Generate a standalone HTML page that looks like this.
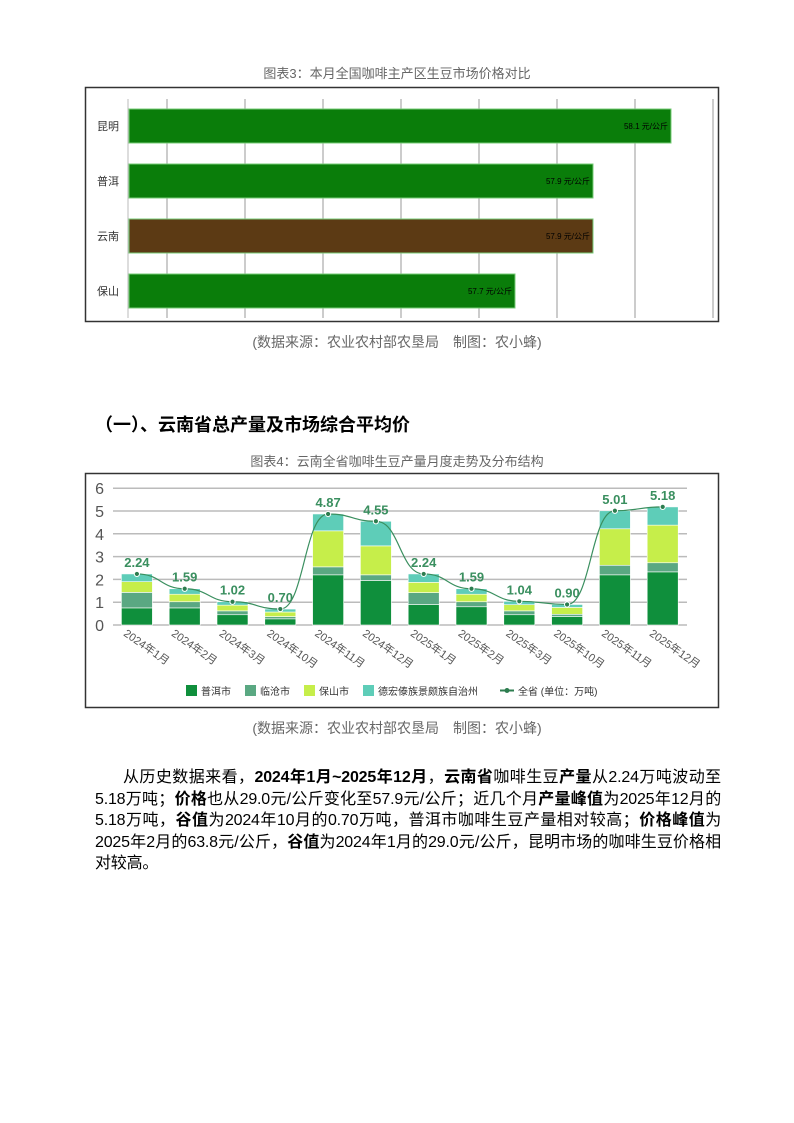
<!DOCTYPE html>
<html><head><meta charset="utf-8"><style>
body{margin:0;width:794px;height:1123px;background:#fff;font-family:"Liberation Sans","Noto Sans CJK SC",sans-serif;position:relative;overflow:hidden}
.t{position:absolute;left:0;width:794px;text-align:center;color:#666;font-size:13px}
p{position:absolute;left:95px;top:767px;width:626px;margin:0;font-size:16px;line-height:21.5px;text-indent:28px;color:#000;text-align:justify;letter-spacing:-0.2px}
h2{position:absolute;left:95px;top:411px;margin:0;font-size:18px;font-weight:bold}
</style></head><body>
<div class="t" style="top:63px">图表3：本月全国咖啡主产区生豆市场价格对比</div>
<div class="t" style="top:332px;font-size:14px">(数据来源：农业农村部农垦局　制图：农小蜂)</div>
<h2>（一）、云南省总产量及市场综合平均价</h2>
<div class="t" style="top:451px">图表4：云南全省咖啡生豆产量月度走势及分布结构</div>
<div class="t" style="top:718px;font-size:14px">(数据来源：农业农村部农垦局　制图：农小蜂)</div>
<svg id="s" width="794" height="1123" style="position:absolute;left:0;top:0" font-family="Liberation Sans,Noto Sans CJK SC,sans-serif"></svg>
<p>从历史数据来看，<b>2024年1月~2025年12月</b>，<b>云南省</b>咖啡生豆<b>产量</b>从2.24万吨波动至5.18万吨；<b>价格</b>也从29.0元/公斤变化至57.9元/公斤；近几个月<b>产量峰值</b>为2025年12月的5.18万吨，<b>谷值</b>为2024年10月的0.70万吨，普洱市咖啡生豆产量相对较高；<b>价格峰值</b>为2025年2月的63.8元/公斤，<b>谷值</b>为2024年1月的29.0元/公斤，昆明市场的咖啡生豆价格相对较高。</p>
<script>
let h='';
h+='<rect x="85.5" y="87.5" width="633" height="234" fill="#fff" stroke="#333" stroke-width="1.5"/>';
for(let i=0;i<8;i++){let x=167+i*78;h+=`<line x1="${x}" y1="99" x2="${x}" y2="318" stroke="#ccc" stroke-width="2"/>`}
h+='<line x1="128" y1="99" x2="128" y2="318" stroke="#bbb"/>';
const b=[["昆明",109,671,"#0a7d0a","58.1"],["普洱",164,593,"#0a7d0a","57.9"],["云南",219,593,"#5c3a14","57.9"],["保山",274,515,"#0a7d0a","57.7"]];
for(const[n,y,e,c,v] of b){h+=`<rect x="129" y="${y}" width="${e-129}" height="34" fill="${c}" stroke="#7c7" stroke-width="1"/>`;
h+=`<text x="${e-3}" y="${y+20}" font-size="8" text-anchor="end" fill="#000">${v} 元/公斤</text>`;
h+=`<text x="97" y="${y+21}" font-size="11" fill="#333">${n}</text>`}
h+='<rect x="85.5" y="473.5" width="633" height="234" fill="#fff" stroke="#333" stroke-width="1.5"/>';
const y0=625,u=22.8,x0=113,cw=47.8;
for(let i=0;i<=6;i++){let y=y0-i*u;h+=`<line x1="${x0}" y1="${y}" x2="687" y2="${y}" stroke="${i?'#bbb':'#999'}" stroke-width="${i?1.5:1}"/><text x="104" y="${y+6}" font-size="16" text-anchor="end" fill="#555">${i}</text>`}
const d=[[0.75,0.68,0.47,0.34],[0.75,0.27,0.33,0.24],[0.45,0.17,0.25,0.15],[0.27,0.1,0.2,0.13],[2.2,0.35,1.58,0.74],[1.95,0.25,1.27,1.08],[0.9,0.52,0.45,0.37],[0.8,0.22,0.33,0.24],[0.45,0.17,0.27,0.15],[0.37,0.1,0.3,0.13],[2.2,0.42,1.6,0.79],[2.33,0.4,1.65,0.8]];
const tot=[2.24,1.59,1.02,0.70,4.87,4.55,2.24,1.59,1.04,0.90,5.01,5.18];
const cols=["#0f8f3c","#5aa882","#c6ee4a","#5ecdb8"];
const lab=["2024年1月","2024年2月","2024年3月","2024年10月","2024年11月","2024年12月","2025年1月","2025年2月","2025年3月","2025年10月","2025年11月","2025年12月"];
let pts=[];
d.forEach((s,i)=>{let cx=x0+cw*(i+.5),acc=0;s.forEach((v,k)=>{h+=`<rect x="${cx-15.5}" y="${y0-(acc+v)*u}" width="31" height="${v*u}" fill="${cols[k]}" stroke="#fff" stroke-width="0.6"/>`;acc+=v});
pts.push([cx,y0-tot[i]*u]);
h+=`<text transform="translate(${cx-14},${y0+10}) rotate(35)" font-size="11" fill="#555">${lab[i]}</text>`});
let p=`M${pts[0]}`;for(let i=0;i<pts.length-1;i++){let a=pts[i],c=pts[i+1],dx=(c[0]-a[0])*0.5;p+=` C${a[0]+dx},${a[1]} ${c[0]-dx},${c[1]} ${c[0]},${c[1]}`}
h+=`<path d="${p}" fill="none" stroke="#3a8f5f" stroke-width="1.2"/>`;
pts.forEach((q,i)=>{h+=`<circle cx="${q[0]}" cy="${q[1]}" r="2.6" fill="#2d7d4f" stroke="#fff" stroke-width="1"/><text x="${q[0]}" y="${q[1]-7}" font-size="13" font-weight="bold" text-anchor="middle" fill="#3a8f5f">${tot[i].toFixed(2)}</text>`});
const lg=[["普洱市",186],["临沧市",245],["保山市",304],["德宏傣族景颇族自治州",363]];
lg.forEach(([n,x],k)=>{h+=`<rect x="${x}" y="685" width="11" height="11" fill="${cols[k]}"/><text x="${x+15}" y="695" font-size="10" fill="#333">${n}</text>`});
h+='<line x1="500" y1="690.5" x2="514" y2="690.5" stroke="#2d7d4f" stroke-width="2"/><circle cx="507" cy="690.5" r="2.5" fill="#2d7d4f"/><text x="518" y="695" font-size="10" fill="#333">全省 (单位：万吨)</text>';
document.getElementById('s').innerHTML=h;
</script>
</body></html>
